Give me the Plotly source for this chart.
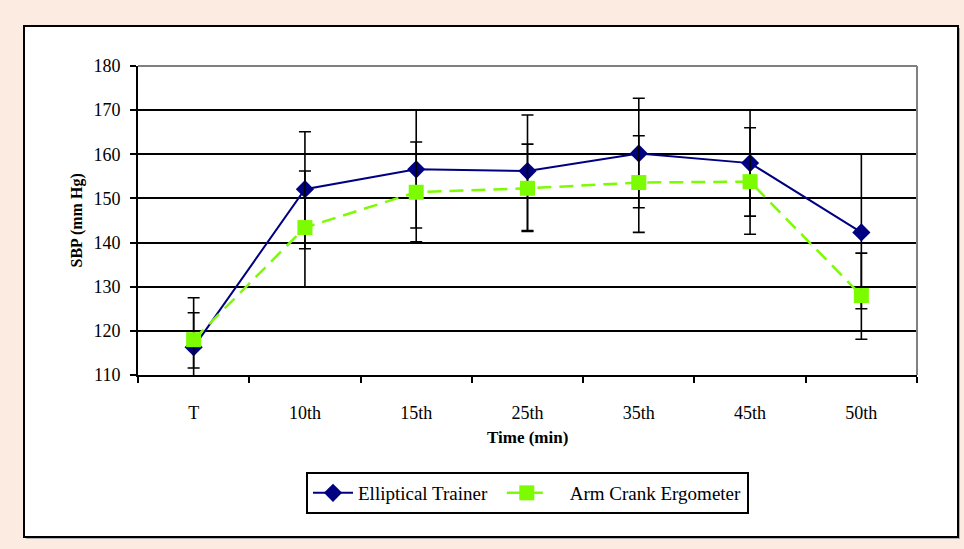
import plotly.graph_objects as go

categories = ["T", "10th", "15th", "25th", "35th", "45th", "50th"]

elliptical = [116.3, 152.1, 156.6, 156.2, 160.2, 158.0, 142.3]
elliptical_plus = [11.2, 13.0, 13.4, 12.7, 12.5, 12.0, 17.7]
elliptical_minus = [11.2, 13.5, 13.3, 13.5, 12.3, 12.0, 17.3]

arm_crank = [118.0, 143.4, 151.4, 152.3, 153.6, 153.8, 128.0]
arm_plus = [6.1, 12.8, 11.4, 10.0, 10.6, 12.2, 9.6]
arm_minus = [6.4, 13.4, 11.2, 9.8, 11.3, 11.9, 9.9]

y_ticks = [110, 120, 130, 140, 150, 160, 170, 180]

FONT = "Liberation Serif"
BLUE = "#000080"
GREEN = "#7CFC00"

fig = go.Figure()
fig.add_trace(go.Scatter(
    x=categories, y=elliptical, name="Elliptical Trainer  ",
    mode="lines+markers",
    line=dict(color=BLUE, width=2),
    marker=dict(symbol="diamond", size=14, color=BLUE),
    error_y=dict(type="data", array=elliptical_plus, arrayminus=elliptical_minus,
                 symmetric=False, color="black", thickness=1.6, width=6),
))
fig.add_trace(go.Scatter(
    x=categories, y=arm_crank, name="    Arm Crank Ergometer",
    mode="lines+markers",
    line=dict(color=GREEN, width=2.5, dash="14px,8px"),
    marker=dict(symbol="square", size=15, color=GREEN),
    error_y=dict(type="data", array=arm_plus, arrayminus=arm_minus,
                 symmetric=False, color="black", thickness=1.6, width=6),
))

W, H = 964, 549
L, R, T, B = 138, 917, 66, 375
pw, ph = R - L, B - T

def px(x):
    return (x - L) / pw

def py(y):
    return (B - y) / ph

shapes = [
    dict(type="rect", xref="paper", yref="paper", layer="below",
         x0=px(26), x1=px(960), y0=py(539), y1=py(28),
         fillcolor="#b0b0b0", line=dict(width=0)),
    dict(type="rect", xref="paper", yref="paper", layer="below",
         x0=px(24), x1=px(958), y0=py(537), y1=py(26),
         fillcolor="white", line=dict(color="black", width=2)),
    dict(type="line", xref="paper", yref="paper", x0=0, x1=1, y0=1, y1=1,
         line=dict(color="#808080", width=2)),
    dict(type="line", xref="paper", yref="paper", x0=1, x1=1, y0=0, y1=1,
         line=dict(color="#808080", width=2)),
]

annotations = [
    dict(text="<b>Time (min)</b>", xref="paper", yref="paper",
         x=0.5, y=py(437), xanchor="center", yanchor="middle", showarrow=False,
         font=dict(family=FONT, size=17, color="black")),
    dict(text="<b>SBP (mm Hg)</b>", xref="paper", yref="paper",
         x=px(76), y=0.5, xanchor="center", yanchor="middle", showarrow=False,
         textangle=-90, font=dict(family=FONT, size=16, color="black")),
]

fig.update_layout(
    width=W, height=H,
    margin=dict(l=L, r=W - R, t=T, b=H - B, pad=0),
    paper_bgcolor="#FCEBE1",
    plot_bgcolor="white",
    font=dict(family=FONT, size=18, color="black"),
    shapes=shapes,
    annotations=annotations,
    showlegend=True,
    legend=dict(
        orientation="h", x=0.5, xanchor="center", y=py(472), yanchor="top",
        bordercolor="black", borderwidth=2, bgcolor="white",
        font=dict(family=FONT, size=19, color="black"),
        itemwidth=40,
    ),
    xaxis=dict(
        type="category", range=[-0.5, 6.5],
        showgrid=False, showline=True, linecolor="black", linewidth=2,
        ticks="outside", tickson="boundaries", ticklen=6, tickwidth=1.5,
        tickcolor="black", ticklabelstandoff=20,
        tickfont=dict(family=FONT, size=18),
        zeroline=False, fixedrange=True,
    ),
    yaxis=dict(
        range=[110, 180], tickvals=y_ticks,
        showgrid=True, gridcolor="black", gridwidth=1.5,
        showline=True, linecolor="black", linewidth=2,
        ticks="outside", ticklen=6, tickwidth=1.5, tickcolor="black",
        ticklabelstandoff=6,
        tickfont=dict(family=FONT, size=18),
        zeroline=False, fixedrange=True,
    ),
)

fig.write_html(
    "out.html",
    config={"displayModeBar": False},
    post_script="document.body.style.margin='0';document.body.style.background='#FCEBE1';",
)
